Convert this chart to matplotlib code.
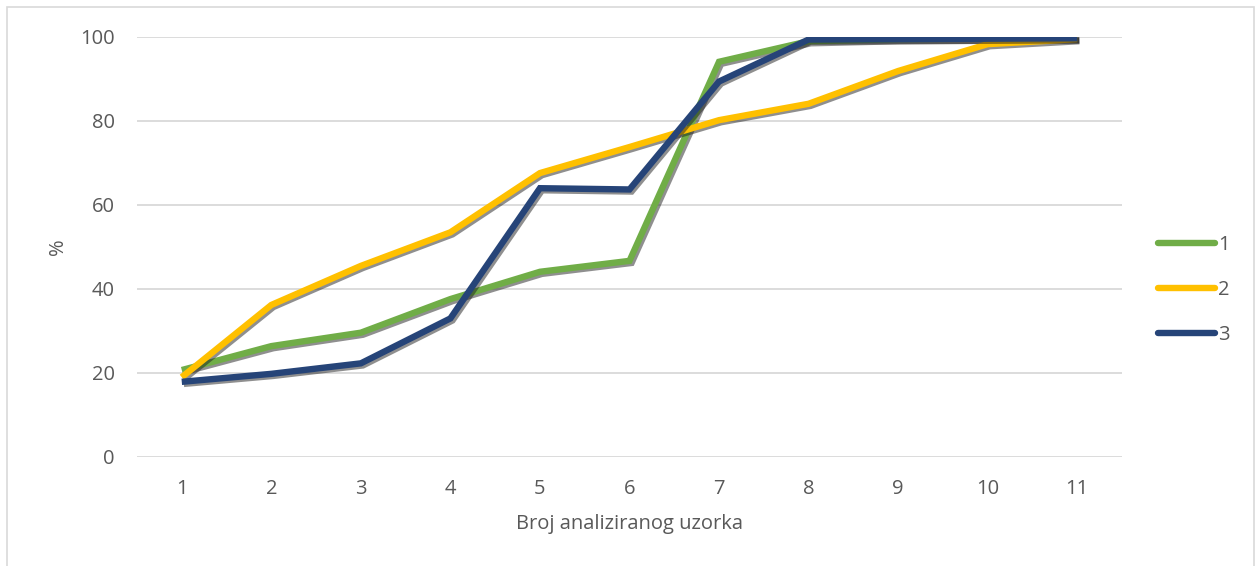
import matplotlib
matplotlib.use("Agg")
import matplotlib.pyplot as plt
import matplotlib.patheffects as pe
from matplotlib.patches import Rectangle

samples = [1, 2, 3, 4, 5, 6, 7, 8, 9, 10, 11]
series_1 = [20.7, 26.4, 29.6, 37.6, 44.1, 46.7, 94.1, 99.0, 99.5, 99.6, 99.7]
series_2 = [19.0, 36.2, 45.5, 53.5, 67.6, 73.8, 80.2, 84.1, 91.9, 98.3, 99.5]
series_3 = [17.9, 19.8, 22.3, 33.0, 64.0, 63.7, 89.4, 99.4, 99.5, 99.6, 99.7]
labels = ["1", "2", "3"]
colors = ["#70ad47", "#ffc000", "#264478"]
yticks = [0, 20, 40, 60, 80, 100]

plt.rcParams['font.family'] = ['Open Sans', 'DejaVu Sans']
W, H = 1260, 566
FS = 14.5
fig = plt.figure(figsize=(W / 100, H / 100), dpi=100)
ax = fig.add_axes([137 / W, (H - 457) / H, (1122 - 137) / W, (457 - 37) / H])

shadow = [pe.SimpleLineShadow(offset=(1.5, -1.5), alpha=0.5, shadow_color='#202020'), pe.Normal()]
for ys, lab, col in zip([series_1, series_2, series_3], labels, colors):
    ax.plot(samples, ys, color=col, lw=4.6, label=lab, solid_joinstyle='miter',
            solid_capstyle='butt', path_effects=shadow)

ax.set_xlim(0.5, 11.5)
ax.set_ylim(0, 100)
ax.set_xticks(samples)
ax.set_yticks(yticks)
ax.grid(axis='y', color='#d9d9d9', lw=1.3)
ax.set_axisbelow(True)
for s in ax.spines.values():
    s.set_visible(False)
ax.tick_params(length=0, labelsize=FS, colors='#595959', pad=16)
ax.tick_params(axis='x', pad=16)
ax.set_xlabel('Broj analiziranog uzorka', fontsize=FS, color='#595959', labelpad=11)
ax.set_ylabel('%', fontsize=FS, color='#595959', labelpad=9)

leg = ax.legend(loc='center left', bbox_to_anchor=(1158 / W, (H - 290) / H),
                bbox_transform=fig.transFigure, frameon=False, fontsize=FS,
                handlelength=2.85, handletextpad=0.15, labelspacing=1.25,
                borderpad=0, borderaxespad=0)
for t in leg.get_texts():
    t.set_color('#595959')
for h in leg.get_lines():
    h.set_solid_capstyle('round')
    h.set_path_effects([])

fig.patches.append(Rectangle((7 / W, -0.05), (1254 - 7) / W, (H - 7) / H + 0.05,
                             transform=fig.transFigure, fill=False,
                             edgecolor='#d9d9d9', lw=1.2))

fig.savefig('out.png', dpi=100)
